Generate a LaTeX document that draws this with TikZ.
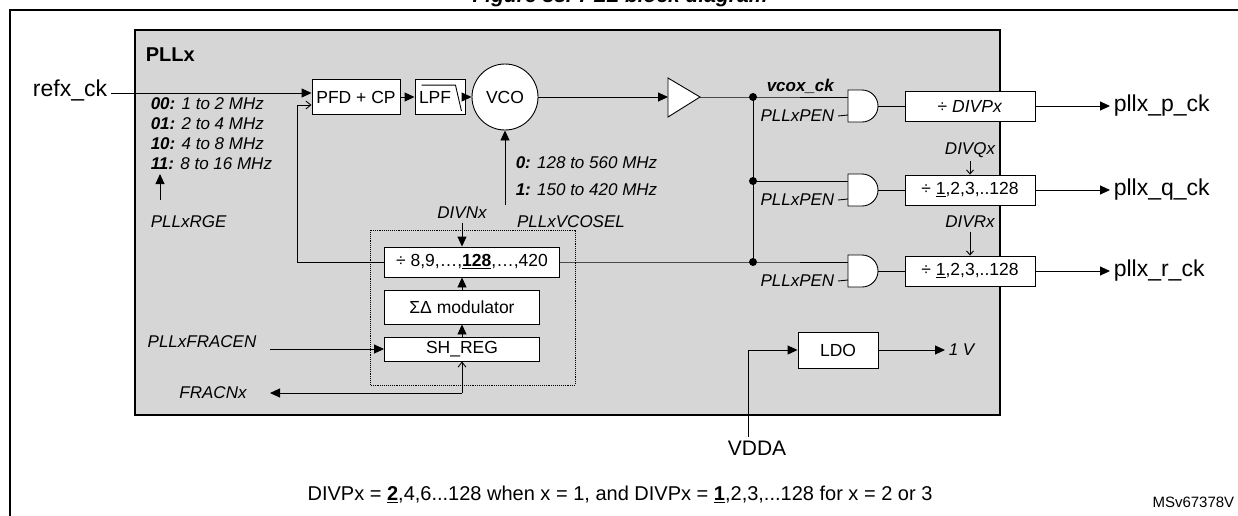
\documentclass[tikz,border=0pt]{standalone}
\usepackage{fontspec}
\setmainfont{Liberation Sans}
\usetikzlibrary{positioning,calc,arrows.meta}
\tikzset{
  blk/.style={draw, fill=white, inner sep=2pt, font=\fontsize{17.5}{19}\selectfont},
  big/.style={font=\fontsize{23}{25}\selectfont},
  lbl/.style={font=\fontsize{17}{19}\selectfont\itshape},
  arr/.style={-{Triangle[length=10pt,width=9pt]}},
  barb/.style={-{Straight Barb[length=5pt,width=8pt]}},
  dot/.style={circle, fill, inner sep=0pt, minimum size=8pt},
  andg/.pic={
    \draw[fill=white] (0,-7) -- (14,-7) arc[start angle=-90, end angle=90, radius=16] -- (0,25) -- cycle;
    \coordinate (-in1) at (0,0);
    \coordinate (-in2) at (0,18);
    \coordinate (-out) at (30,9);
  }
}
\begin{document}
\begin{tikzpicture}[x=1pt, y=-1pt, line width=0.9pt]
\useasboundingbox (0,0) rectangle (1238,515);
\node[font=\fontsize{21}{23}\selectfont\bfseries\itshape] (title) at (620,-3) {Figure 88. PLL block diagram};
\draw[line width=1.4pt] (10,520) -- (10,10) -- (1245,10);
\draw[line width=1.8pt, fill=black!16] (135,30) rectangle (1000,415);
\node[font=\fontsize{20}{22}\selectfont\bfseries, anchor=west] (pllx) at (142,55) {PLLx};
% input stage
\node[big] (refx) at (70,90) {refx\_ck};
\node[blk, minimum width=88pt, minimum height=35pt] (pfd) at (356,97) {PFD + CP};
\node[blk, minimum width=50pt, minimum height=35pt, text width=42pt] (lpf) at (440,97) {LPF};
\draw ($(lpf.north west)+(7,6)$) -- ($(lpf.north east)+(-10,6)$) -- ($(lpf.south east)+(-4,-4)$);
\node[blk, circle, minimum size=66pt] (vco) at (505,97) {VCO};
\coordinate (bufin) at (668,97);
\coordinate (bufout) at (700,97);
\draw[fill=white] (668,78) -- (bufout) -- (668,117) -- cycle;
\draw[arr] (refx.east |- 0,93) -- (pfd.west |- 0,93);
\draw[arr] (pfd) -- (lpf);
\draw[arr] (lpf) -- (vco);
\draw[arr] (vco) -- (bufin);
% range settings
\node[lbl, anchor=north west, align=left, font=\fontsize{17}{20}\selectfont\itshape] (rge) at (147,94) {\textbf{00:} 1 to 2 MHz\\\textbf{01:} 2 to 4 MHz\\\textbf{10:} 4 to 8 MHz\\\textbf{11:} 8 to 16 MHz};
\node[lbl, anchor=west] (rgesel) at (147,222) {PLLxRGE};
\draw[arr] (160,200) -- (160,174);
\node[lbl, anchor=west, align=left] (vcor) at (512,176) {\textbf{0:} 128 to 560 MHz\\[8pt]\textbf{1:} 150 to 420 MHz};
\node[lbl] (vcosel) at (571,222) {PLLxVCOSEL};
\draw[arr] (505,205) -- (vco.south);
% feedback divider
\node[lbl] (divn) at (462,213) {DIVNx};
\node[blk, minimum width=175pt, minimum height=30pt] (divfb) at (472,262) {÷ 8,9,…,\underline{\textbf{128}},…,420};
\node[blk, minimum width=155pt, minimum height=34pt] (sd) at (462,307) {ΣΔ modulator};
\node[blk, minimum width=155pt, minimum height=24pt] (shreg) at (462,349) {SH\_REG};
\draw[densely dotted] (370,230) rectangle (575,385);
\draw[arr] (divn) -- (divfb.north -| divn);
\draw[arr] (sd) -- (sd.north |- divfb.south);
\draw[arr] (shreg) -- (shreg.north |- sd.south);
\coordinate (fbin) at (pfd.west |- 0,105);
\draw[barb] (divfb.west) -| (297,105) -- (fbin);
\node[lbl] (fracen) at (202,342) {PLLxFRACEN};
\draw[arr] (270,349) -- (shreg.west);
\node[lbl] (fracn) at (213,393) {FRACNx};
\draw[barb] (shreg.south |- 0,393) -- (shreg.south);
\draw[arr] (shreg.south |- 0,393) -- (270,393);
% output dividers
\coordinate (bus) at (753,0);
\foreach \n/\y in {1/97, 2/181, 3/262} {
  \pic (g\n) at (848,\y) {andg};
  \node[lbl, anchor=east] (pen\n) at (838,\y+19) {PLLxPEN};
  \draw (pen\n.east) -- (g\n-in2);
}
\node[blk, minimum width=130pt, minimum height=30pt] (divp) at (970,106) {÷ \textit{DIVPx}};
\node[blk, minimum width=130pt, minimum height=30pt] (divq) at (970,190) {÷ \underline{1},2,3,..128};
\node[blk, minimum width=130pt, minimum height=30pt] (divr) at (970,271) {÷ \underline{1},2,3,..128};
\node[lbl] (divqx) at (970,150) {DIVQx};
\node[lbl] (divrx) at (970,222) {DIVRx};
\draw[-{Straight Barb[length=4pt,width=7pt]}] (divqx) -- (divq);
\draw[-{Straight Barb[length=4pt,width=7pt]}] (divrx) -- (divr);
\coordinate (j1) at (g1-in1 -| bus);
\coordinate (j2) at (g2-in1 -| bus);
\coordinate (j3) at (g3-in1 -| bus);
\node[dot] at (j1) {};
\node[dot] at (j2) {};
\node[dot] at (j3) {};
\draw (bufout) -- (j1) -- (g1-in1);
\draw (j1) -- (j3);
\draw (j2) -- (g2-in1);
\draw (divfb.east) -- (j3) -- (g3-in1);
\node[lbl, font=\fontsize{17}{19}\selectfont\bfseries\itshape, anchor=west] (vcox) at (763,86) {vcox\_ck};
\draw (g1-out) -- (divp);
\draw (g2-out) -- (divq);
\draw (g3-out) -- (divr);
\node[big, anchor=west] (pckout) at (1110,106) {pllx\_p\_ck};
\node[big, anchor=west] (qckout) at (1110,190) {pllx\_q\_ck};
\node[big, anchor=west] (rckout) at (1110,271) {pllx\_r\_ck};
\draw[arr] (divp) -- (pckout);
\draw[arr] (divq) -- (qckout);
\draw[arr] (divr) -- (rckout);
% regulator
\node[blk, minimum width=80pt, minimum height=36pt] (ldo) at (838,350) {LDO};
\node[lbl, anchor=west] (onev) at (945,350) {1 V};
\node[big, font=\fontsize{21}{23}\selectfont] (vdda) at (757,448) {VDDA};
\draw[arr] (vdda.north -| 748,0) |- (ldo.west);
\draw[arr] (ldo) -- (onev);
% notes
\node[big, font=\fontsize{20}{22}\selectfont] (note) at (620,495) {DIVPx = \underline{\textbf{2}},4,6...128 when x = 1, and DIVPx = \underline{\textbf{1}},2,3,...128 for x = 2 or 3};
\node[font=\fontsize{15}{17}\selectfont, anchor=east] (ref) at (1238,502) {MSv67378V};
\end{tikzpicture}
\end{document}
